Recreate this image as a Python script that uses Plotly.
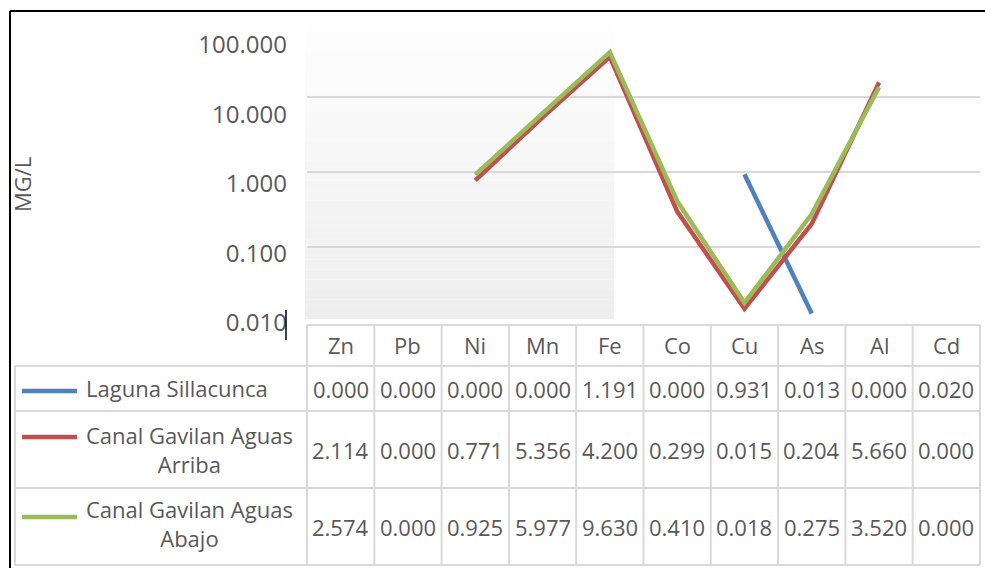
import plotly.graph_objects as go

# ---------------- data ----------------
categories = ["Zn", "Pb", "Ni", "Mn", "Fe", "Co", "Cu", "As", "Al", "Cd"]
series_names = ["Laguna Sillacunca", "Canal Gavilan Aguas<br>Arriba", "Canal Gavilan Aguas<br>Abajo"]
laguna = [0.000, 0.000, 0.000, 0.000, 1.191, 0.000, 0.931, 0.013, 0.000, 0.020]
arriba = [2.114, 0.000, 0.771, 5.356, 34.200, 0.299, 0.015, 0.204, 15.660, 0.000]
abajo = [2.574, 0.000, 0.925, 5.977, 39.630, 0.410, 0.018, 0.275, 13.520, 0.000]
tick_vals = [0.01, 0.1, 1, 10, 100]
tick_labels = ["0.010", "0.100", "1.000", "10.000", "100.000"]
y_title = "MG/L"

series = [laguna, arriba, abajo]
colors = ["#4F81BD", "#C0504D", "#9BBB59"]

# ---------------- layout helpers ----------------
W, H = 985, 568
def px(x):
    return x / W
def py(y):
    return 1 - y / H

FONT = "Open Sans"
TXT = "#595959"
GRID = "#d9d9d9"

X0, X1 = 307, 980          # category area (plot + table columns)
PLOT_TOP, PLOT_BOT = 22, 322
ncat = len(categories)
colw = (X1 - X0) / ncat

fig = go.Figure()

for vals, name, col in zip(series, series_names, colors):
    fig.add_trace(go.Scatter(
        x=categories,
        y=[v if v > 0 else None for v in vals],
        mode="lines",
        line=dict(color=col, width=4.5),
        name=name.replace("<br>", " "),
        connectgaps=False,
        showlegend=False,
    ))

# dummy trace for the tick-label axis
fig.add_trace(go.Scatter(x=[None], y=[None], yaxis="y2", showlegend=False, hoverinfo="skip"))

shapes = []
annotations = []

# gradient panel behind the left part of plot
N = 30
g_top, g_bot, g_left, g_right = 22, 319, 305, 614
for i in range(N):
    t = i / (N - 1)
    v = int(round(254 - 16 * t))
    y0 = g_top + (g_bot - g_top) * i / N
    y1 = g_top + (g_bot - g_top) * (i + 1) / N
    shapes.append(dict(type="rect", xref="paper", yref="paper", layer="below",
                       x0=px(g_left), x1=px(g_right), y0=py(y1), y1=py(y0),
                       line=dict(width=0), fillcolor=f"rgb({v},{v},{v})"))

# table grid
rows = [(325, 366), (366, 411), (411, 488), (488, 565)]
LEFT = 15
def hline(y, xa, xb, color=GRID, w=2):
    shapes.append(dict(type="line", xref="paper", yref="paper",
                       x0=px(xa), x1=px(xb), y0=py(y), y1=py(y),
                       line=dict(color=color, width=w)))
def vline(x, ya, yb, color=GRID, w=2):
    shapes.append(dict(type="line", xref="paper", yref="paper",
                       x0=px(x), x1=px(x), y0=py(ya), y1=py(yb),
                       line=dict(color=color, width=w)))

hline(325, X0, X1)
for y in (366, 411, 488, 565):
    hline(y, LEFT, X1)
vline(LEFT, 366, 565)
for k in range(ncat + 1):
    vline(X0 + colw * k, 325, 565)

# header labels
hy = (rows[0][0] + rows[0][1]) / 2 - 1
for c in categories:
    annotations.append(dict(x=c, xref="x", y=py(hy), yref="paper", text=c, showarrow=False,
                            xanchor="center", yanchor="middle",
                            font=dict(family=FONT, size=22, color=TXT)))

# value cells
def fmt(v):
    s = f"{v:.3f}"
    return s[-5:]  # cell is too narrow for wider numbers
for r, vals in enumerate(series):
    ya, yb = rows[r + 1]
    yc = (ya + yb) / 2
    for c, v in zip(categories, vals):
        annotations.append(dict(x=c, xref="x", y=py(yc), yref="paper", text=fmt(v), showarrow=False,
                                xanchor="center", yanchor="middle",
                                font=dict(family=FONT, size=22, color=TXT)))

# legend keys inside the table
key_y = [391, 437, 517]
label_y = [388, 449, 523]
for r, (name, col) in enumerate(zip(series_names, colors)):
    shapes.append(dict(type="line", xref="paper", yref="paper",
                       x0=px(22), x1=px(77), y0=py(key_y[r]), y1=py(key_y[r]),
                       line=dict(color=col, width=4.5)))
    annotations.append(dict(x=px(84), xref="paper", y=py(label_y[r]), yref="paper", text=name,
                            showarrow=False, xanchor="left", yanchor="middle", align="center",
                            font=dict(family=FONT, size=22, color=TXT)))

# axis title
annotations.append(dict(x=px(22), xref="paper", y=py(185), yref="paper", text=y_title,
                        textangle=-90, showarrow=False, xanchor="center", yanchor="middle",
                        font=dict(family=FONT, size=22, color=TXT)))

# black frame (top & left) and text cursor
hline(11, 10, W, color="black", w=2)
vline(10, 11, H, color="black", w=2)
vline(286, 310, 340, color="black", w=1.5)

fig.update_layout(
    width=W, height=H,
    margin=dict(l=0, r=0, t=0, b=0, pad=0, autoexpand=False),
    paper_bgcolor="white",
    plot_bgcolor="rgba(0,0,0,0)",
    showlegend=False,
    shapes=shapes,
    annotations=annotations,
    xaxis=dict(domain=[px(X0), px(X1)], range=[-0.5, ncat - 0.5], type="category",
               showticklabels=False, showgrid=False, zeroline=False, showline=False,
               ticks="", fixedrange=True, automargin=False),
    yaxis=dict(domain=[py(PLOT_BOT), py(PLOT_TOP)], type="log", range=[-2, 2],
               tickvals=tick_vals[1:], showticklabels=False, showgrid=True,
               gridcolor=GRID, gridwidth=1.5, zeroline=False, showline=False, ticks="",
               automargin=False),
    yaxis2=dict(domain=[py(323), py(45)], type="log", range=[-2, 2], anchor="free",
                position=px(X0), side="left", tickvals=tick_vals, ticktext=tick_labels,
                showgrid=False, zeroline=False, showline=False, ticks="",
                ticklabelstandoff=20, automargin=False,
                tickfont=dict(family=FONT, size=24, color=TXT)),
)

fig.write_html("out.html", post_script="document.body.style.margin='0px';",
               config={"displayModeBar": False})
